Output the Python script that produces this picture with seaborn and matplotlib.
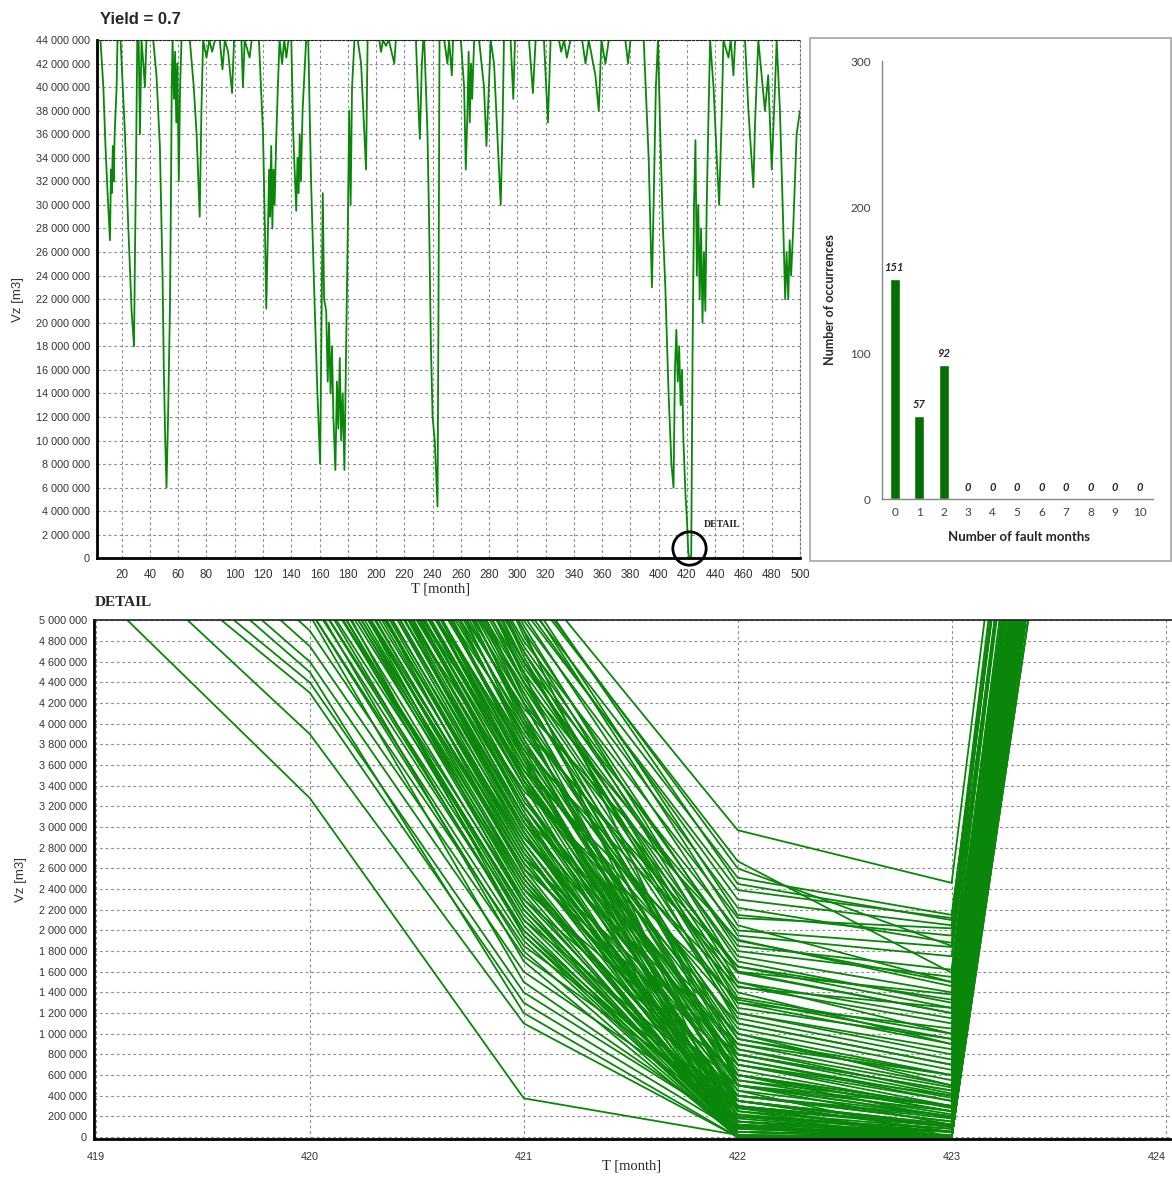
import matplotlib
matplotlib.use('Agg')
import matplotlib.pyplot as plt
from matplotlib.patches import Rectangle
from matplotlib.ticker import FuncFormatter, MultipleLocator, FixedLocator
import seaborn as sns
import pandas as pd
import numpy as np

# ---- top panel: Vz envelope over the 500 simulated months (values in million m3)
top_month = [2, 5, 7, 8.5, 10, 11.7, 12.4, 13, 13.7, 14.3, 15, 16.4, 17,
             19.2, 22.3, 24.7, 27, 28.7, 29.4, 30.1, 31, 32, 32.9, 34, 35.3, 36.4, 37.5,
             42.3, 44.6, 47, 48.9, 49.8, 50.8, 51.7, 52.8, 54.1, 54.8, 55.4, 56, 57, 57.8, 58.6, 59.4, 60.4, 61.3, 62.3,
             68.2, 71, 73, 75.2, 76.4, 77.6, 80, 82, 84, 86,
             89.4, 91.3, 93, 95.3, 98.1, 99.5, 104.7, 105.8, 107, 110.5, 112,
             117.1, 120, 121.5, 122.3, 123.5, 124.3, 125, 125.8, 126.6, 127.4, 128.2, 129.2, 130.5, 131.7, 133.5, 135, 136.5, 138,
             140, 141.4, 143.5, 144.4, 145.2, 146, 146.8, 148, 150.5,
             152, 154, 156.4, 158.5, 160.4, 161.2, 162.3, 163.2, 164.7, 165.8, 166.7, 167.8, 168.8, 169.8, 171.2, 172.3,
             173.3, 174.3, 175.3, 176.4, 177.6, 178.8, 180, 181, 182, 183, 184.7,
             187, 189.4, 191.7, 192.9, 194, 202.3, 203.5, 205, 207, 209, 212.9, 214,
             228.2, 230.1, 231, 232.4, 233.4, 234.1, 236.4, 237.6, 238.8, 240, 241.5, 243.5, 244.2, 244.9,
             248.2, 250.5, 251.7, 253.6, 254.5,
             260, 262.3, 263.5, 264.7, 265.5, 266.3, 267.2, 268, 269.4,
             272.9, 276.4, 278.1, 279.5, 281.1, 283.5, 285.8, 288.2, 289.4, 290.5,
             295.2, 297.1, 298.3, 308.2, 311, 312.9, 318.8, 321.6, 323.5,
             329.4, 331, 333, 335, 337.6, 345.8, 348.2, 350.5, 355.2, 357.6, 359.5, 362.3, 364.7, 376.4, 378.3, 380,
             389.4, 392.9, 395.2, 396.4, 398, 399.5, 401.1, 403, 404.7, 407, 409, 410.5, 411.5, 412.5, 413.5,
             414.5, 415.5, 416.5, 417.5, 418.5, 419, 420, 421, 422, 423,
             424, 425, 426, 427, 428, 429, 430, 431, 432, 433, 434, 435.3, 436.4,
             438.8, 441.1, 442.8, 444.7, 445.8, 449.4, 451, 452.9, 454.1,
             461.1, 463.5, 467, 468.2, 470.5, 475.2, 477.5, 480, 482.3, 483.5,
             485.8, 488.2, 489.5, 490.5, 491.7, 492.7, 493.7, 495.2, 497.6, 500]
top_vz = [44, 44, 40, 35, 31, 27, 33, 31, 35, 32, 36, 40, 44,
          44, 36, 28, 21, 18, 26, 33, 44, 44, 36, 44, 42, 40, 44,
          44, 41, 35, 24, 16, 10, 6, 12, 21, 30, 40, 44, 39, 43, 37, 42, 32, 40, 44,
          44, 40, 36, 29, 38, 44, 42.5, 44, 43, 44,
          44, 41.5, 44, 43, 39.5, 44, 44, 40, 44, 42.5, 44,
          44, 36, 27, 21.2, 28, 33, 29, 35, 28, 33, 30, 35, 40, 44, 42, 44, 42.5, 44,
          44, 36, 29.5, 34, 31, 36, 32, 38, 44,
          44, 32, 22, 14, 8, 18, 31, 22, 21, 15, 20, 14, 18, 12, 7.5, 15,
          11, 17, 10, 14, 7.5, 18, 28, 38, 30, 40, 44,
          44, 42, 36, 33, 44, 44, 43, 44, 43.5, 44, 42, 44,
          44, 38, 35.6, 42, 44, 44, 36, 28, 18, 12, 10, 4.4, 22, 44,
          44, 42, 44, 41, 44,
          44, 40, 33, 38, 43, 37, 42, 39, 44,
          44, 40, 35, 39, 44, 42, 36, 30, 36, 44,
          44, 39, 44, 44, 39.5, 44, 44, 37, 44,
          44, 43, 44, 42.5, 44, 44, 42, 44, 41, 38, 44, 42, 44, 44, 42, 44,
          44, 34, 23, 30, 40, 44, 36, 28, 23, 14, 8, 6, 16, 19.4, 15,
          18, 13, 16, 10, 7, 5.3, 3.3, 0.4, 0.02, 0,
          18, 30, 35.5, 24, 30, 22, 28, 20, 26, 21, 30, 38, 44,
          40, 34, 30, 38, 44, 42.5, 44, 41, 44,
          44, 38, 31.5, 37, 44, 38, 41, 33, 40, 44,
          38, 28, 22, 26, 22, 27, 24, 28, 36, 38]

# ---- histogram of fault months
fault_months = [0, 1, 2, 3, 4, 5, 6, 7, 8, 9, 10]
occurrences = [151, 57, 92, 0, 0, 0, 0, 0, 0, 0, 0]

# ---- detail: Vz of the individual runs around month 421 (million m3)
detail_months = [419, 420, 421, 422, 423, 424]
vz_419 = [5.3, 5.83, 6.0, 6.1, 6.3, 6.4, 6.6, 6.8, 7.0, 7.1,
          7.2, 7.4, 7.5, 7.6, 7.8, 7.9, 8.0, 8.2, 8.3, 8.4,
          8.5, 8.6, 8.8, 8.9, 9.0, 9.1, 9.2, 9.4, 9.5, 9.6,
          9.8, 10.0, 10.1, 10.2, 10.4, 10.5, 10.6, 10.8, 11.0, 11.2,
          11.4, 11.5, 11.7, 11.9, 12.2, 9.3, 9.0, 8.7, 8.5, 8.3,
          8.9, 8.6, 8.1, 7.7, 7.3, 9.7, 10.3, 10.7, 11.1, 11.6,
          7.9, 8.4, 8.8, 9.2, 9.6, 10.1, 10.9, 11.3, 7.5, 7.2,
          6.9, 6.7, 9.9, 10.4, 10.6, 11.0, 11.8, 12.0, 12.4, 12.6,
          8.0, 8.7, 9.4, 10.0, 10.5, 7.6, 9.1, 9.8, 11.2, 8.2,
          7.4, 7.7, 7.9, 8.1, 8.3, 8.5, 8.7, 8.8, 9.0, 9.2,
          9.3, 9.5, 9.6, 9.8, 10.0, 10.1, 10.3, 10.5, 7.0, 7.3,
          7.6, 7.8, 8.0, 8.2, 8.4, 8.6, 8.9, 9.1, 9.4, 9.7,
          6.5, 6.8, 7.1, 7.5, 8.0, 8.4, 8.9, 9.3, 9.7, 10.2,
          10.9, 11.3, 11.6, 12.0, 12.3, 10.6, 10.8, 11.5, 12.1, 12.5]
vz_420 = [3.28, 3.9, 4.3, 4.4, 4.5, 4.6, 4.75, 4.9, 5.1, 5.2,
          5.3, 5.4, 5.5, 5.6, 5.7, 5.8, 5.9, 6.0, 6.1, 6.2,
          6.3, 6.4, 6.5, 6.6, 6.7, 6.8, 6.9, 7.0, 7.1, 7.2,
          7.4, 7.5, 7.6, 7.7, 7.8, 7.9, 8.0, 8.2, 8.4, 8.5,
          8.7, 8.8, 9.0, 9.2, 9.5, 7.3, 7.05, 6.85, 6.65, 6.45,
          6.95, 6.75, 6.35, 6.05, 5.75, 7.55, 8.1, 8.3, 8.6, 8.9,
          6.15, 6.55, 6.9, 7.15, 7.35, 7.65, 8.25, 8.65, 5.85, 5.55,
          5.25, 5.05, 7.75, 8.15, 8.35, 8.55, 9.1, 9.3, 9.6, 9.8,
          6.25, 6.8, 7.25, 7.85, 8.05, 5.95, 7.0, 7.45, 8.75, 6.5,
          5.65, 5.9, 6.1, 6.3, 6.5, 6.6, 6.75, 6.85, 7.0, 7.1,
          7.2, 7.3, 7.45, 7.6, 7.7, 7.8, 7.95, 8.1, 5.4, 5.6,
          5.8, 6.0, 6.2, 6.4, 6.55, 6.7, 6.95, 7.05, 7.3, 7.5,
          5.1, 5.3, 5.5, 5.75, 6.05, 6.35, 6.65, 6.95, 7.25, 7.55,
          8.45, 8.8, 9.0, 9.4, 9.65, 8.2, 8.4, 8.95, 9.5, 9.7]
vz_421 = [0.375, 1.1, 1.3, 1.4, 1.2, 1.6, 1.75, 1.85, 1.9, 2.0,
          2.1, 2.2, 2.3, 2.15, 2.4, 2.5, 2.6, 2.45, 2.7, 2.8,
          2.9, 3.0, 3.1, 3.2, 3.3, 3.4, 3.5, 3.6, 3.7, 3.8,
          4.0, 4.1, 4.2, 4.3, 4.4, 4.5, 4.6, 4.7, 4.8, 4.9,
          5.0, 5.1, 5.2, 5.35, 5.5, 4.15, 3.95, 3.75, 3.55, 3.35,
          3.15, 2.95, 2.55, 2.25, 1.95, 3.45, 3.85, 4.05, 4.25, 4.45,
          2.85, 3.05, 3.25, 3.65, 3.9, 4.35, 4.55, 4.75, 2.35, 2.05,
          1.7, 1.5, 3.65, 4.0, 4.2, 4.4, 4.65, 4.85, 5.05, 5.25,
          2.75, 3.1, 3.5, 3.8, 4.1, 2.65, 3.4, 3.7, 4.6, 2.95,
          2.25, 2.4, 2.55, 2.7, 2.85, 3.0, 3.1, 3.2, 3.3, 3.4,
          3.5, 3.6, 3.75, 3.85, 3.95, 4.05, 4.2, 4.3, 1.95, 2.1,
          2.3, 2.5, 2.65, 2.8, 2.9, 3.05, 3.3, 3.45, 3.55, 3.7,
          1.8, 2.0, 2.2, 2.45, 2.6, 2.75, 2.95, 3.2, 3.45, 3.7,
          4.5, 4.7, 4.9, 5.15, 5.4, 4.4, 4.6, 4.95, 5.3, 5.45]
vz_422 = [0.02, 0.0, 0.05, 0.1, 0.0, 0.2, 0.28, 0.35, 0.0, 0.15,
          0.4, 0.0, 0.5, 0.05, 0.6, 0.0, 0.7, 0.3, 0.8, 0.0,
          0.9, 0.2, 1.0, 0.4, 0.0, 1.1, 0.6, 1.2, 0.1, 1.3,
          1.5, 0.3, 1.65, 0.8, 1.9, 0.0, 2.0, 1.3, 2.12, 0.5,
          2.22, 2.39, 2.51, 2.67, 2.97, 1.91, 1.65, 1.59, 1.46, 1.33,
          0.0, 0.1, 0.05, 0.0, 0.12, 0.45, 0.7, 0.95, 1.15, 1.4,
          0.25, 0.55, 0.75, 0.9, 1.05, 1.2, 1.75, 1.85, 0.0, 0.02,
          0.0, 0.08, 0.0, 0.35, 0.6, 0.85, 1.1, 1.5, 1.95, 2.05,
          0.15, 0.35, 0.65, 0.5, 1.0, 0.4, 0.85, 0.0, 1.25, 0.0,
          0.0, 0.0, 0.0, 0.05, 0.1, 0.15, 0.0, 0.2, 0.3, 0.0,
          0.25, 0.4, 0.5, 0.35, 0.6, 0.0, 0.55, 0.75, 0.0, 0.08,
          0.12, 0.22, 0.3, 0.0, 0.45, 0.05, 0.5, 0.15, 0.7, 0.2,
          0.0, 0.0, 0.18, 0.1, 0.0, 0.35, 0.28, 0.6, 0.8, 0.95,
          1.6, 1.7, 1.8, 2.3, 2.6, 1.35, 1.45, 1.6, 2.15, 2.45]
vz_423 = [0.0, 0.0, 0.0, 0.02, 0.0, 0.05, 0.1, 0.12, 0.0, 0.0,
          0.2, 0.0, 0.3, 0.0, 0.25, 0.0, 0.35, 0.1, 0.4, 0.0,
          0.5, 0.0, 0.6, 0.15, 0.0, 0.7, 0.3, 0.8, 0.0, 0.9,
          1.0, 0.0, 1.25, 0.45, 1.5, 0.0, 1.84, 1.05, 2.02, 0.2,
          1.88, 2.12, 2.15, 1.59, 2.46, 1.46, 1.33, 1.2, 1.1, 0.95,
          0.0, 0.0, 0.0, 0.0, 0.05, 0.0, 0.3, 0.55, 0.75, 0.9,
          0.08, 0.22, 0.38, 0.6, 0.65, 0.85, 1.4, 1.62, 0.0, 0.0,
          0.0, 0.0, 0.0, 0.05, 0.18, 0.42, 0.7, 1.15, 1.75, 1.5,
          0.0, 0.1, 0.28, 0.12, 0.5, 0.15, 0.48, 0.0, 0.95, 0.0,
          0.0, 0.0, 0.0, 0.0, 0.0, 0.05, 0.0, 0.08, 0.1, 0.0,
          0.0, 0.18, 0.2, 0.1, 0.25, 0.0, 0.3, 0.35, 0.0, 0.0,
          0.0, 0.05, 0.1, 0.0, 0.2, 0.0, 0.25, 0.0, 0.4, 0.05,
          0.0, 0.0, 0.0, 0.0, 0.0, 0.12, 0.0, 0.3, 0.45, 0.6,
          1.2, 1.3, 1.55, 2.05, 1.85, 1.0, 1.25, 1.38, 1.95, 2.1]
vz_424 = [14.0, 15.5, 16.0, 15.0, 16.5, 17.0, 15.5, 14.5, 16.0, 15.0,
          17.0, 16.0, 15.5, 14.5, 16.5, 15.0, 17.5, 16.0, 15.5, 14.0,
          16.0, 17.0, 15.0, 16.5, 15.5, 17.0, 14.5, 16.0, 15.0, 16.5,
          17.0, 15.5, 16.0, 14.5, 16.5, 15.0, 17.5, 16.0, 18.0, 15.5,
          17.0, 18.0, 17.5, 18.5, 19.0, 16.0, 16.5, 15.5, 16.0, 15.0,
          14.5, 15.5, 16.0, 14.0, 15.0, 16.5, 15.5, 17.0, 16.0, 17.5,
          15.0, 16.0, 15.5, 16.5, 17.0, 16.0, 17.5, 18.0, 15.0, 14.5,
          15.5, 16.0, 14.5, 15.0, 16.0, 16.5, 17.0, 17.5, 18.0, 18.5,
          15.5, 16.0, 16.5, 15.0, 17.0, 15.5, 16.0, 14.5, 17.0, 15.0,
          15.0, 16.0, 15.5, 14.5, 16.5, 15.0, 16.0, 15.5, 16.5, 15.0,
          14.5, 16.0, 15.5, 16.5, 17.0, 15.0, 16.0, 17.0, 14.5, 15.5,
          16.0, 15.0, 16.5, 15.5, 16.0, 14.5, 17.0, 15.0, 16.0, 15.5,
          15.0, 14.5, 16.0, 15.5, 16.5, 15.0, 16.0, 15.5, 17.0, 16.0,
          17.5, 17.0, 18.0, 18.5, 19.0, 17.0, 16.5, 17.5, 18.5, 19.0]

GREEN = '#0a860a'
BAR_GREEN = '#036f03'
GRID = dict(color='#8c8c8c', linestyle=(0, (2.5, 2.5)), linewidth=0.8)

sns.set_style('white')
plt.rcParams['font.family'] = ['Liberation Sans', 'DejaVu Sans']

W, H = 1172, 1178


def box(x0, y0, x1, y1):
    # pixel box (top-left origin) -> figure fraction rect
    return [x0 / W, 1 - y1 / H, (x1 - x0) / W, (y1 - y0) / H]


def spaced(v, pos):
    return f"{int(round(v)):,}".replace(",", " ")


fig = plt.figure(figsize=(W / 100, H / 100), dpi=100)

# ---------------- top: time series ----------------
ax = fig.add_axes(box(96.7, 40, 800, 558.3))
top_df = pd.DataFrame({'T': top_month, 'Vz': np.array(top_vz) * 1e6})
sns.lineplot(data=top_df, x='T', y='Vz', estimator=None, sort=False,
             color=GREEN, linewidth=1.3, ax=ax)
ax.set_xlim(2.3, 500)
ax.set_ylim(0, 44e6)
ax.xaxis.set_major_locator(FixedLocator(np.arange(20, 501, 20)))
ax.xaxis.set_minor_locator(MultipleLocator(5))
ax.yaxis.set_major_locator(MultipleLocator(2e6))
ax.yaxis.set_major_formatter(FuncFormatter(spaced))
ax.grid(True, which='major', **GRID)
ax.set_xlabel('')
ax.set_ylabel('')
ax.tick_params(axis='y', labelsize=7.8, colors='#333333', length=3, width=0.8, pad=2)
ax.tick_params(axis='x', which='major', labelsize=8.4, colors='#333333', length=3,
               width=0.8, pad=5)
ax.tick_params(axis='x', which='minor', length=2, width=0.7, color='#555555',
               direction='inout')
for s in ['left', 'bottom']:
    ax.spines[s].set_linewidth(2)
    ax.spines[s].set_color('black')
ax.spines['top'].set_linestyle((0, (2, 1.5)))
ax.spines['top'].set_color('#222222')
ax.spines['right'].set_linestyle((0, (2, 2)))
ax.spines['right'].set_color('#777777')
ax.plot([421.1], [0.87e6], marker='o', ms=24, mfc='none', mec='black', mew=2,
        clip_on=False, zorder=5)
ax.text(431.6, 2.83e6, 'DETAIL', fontsize=7, fontweight='bold',
        family='Liberation Serif', ha='left', va='center')

fig.text(100 / W, 1 - 20 / H, 'Yield = 0.7', fontsize=12, fontweight='bold',
         ha='left', va='center')
fig.text(441 / W, 1 - 589 / H, 'T [month]', fontsize=10.5, family='Liberation Serif',
         ha='center', va='center')
fig.text(18 / W, 1 - 300 / H, 'Vz [m3]', fontsize=9.5, rotation=90,
         ha='center', va='center', color='#333333')

# ---------------- top right: histogram ----------------
fig.add_artist(Rectangle((810 / W, 1 - 561 / H), (1171 - 810) / W, (561 - 38) / H,
                         transform=fig.transFigure, fill=False,
                         edgecolor='#a6a6a6', linewidth=1.2))
bx = fig.add_axes(box(881.7, 61, 1152.7, 499))
sns.barplot(x=fault_months, y=occurrences, color=BAR_GREEN, width=0.4,
            saturation=1, ax=bx)
bx.set_xlim(-0.53, 10.53)
bx.set_ylim(0, 300)
bx.set_yticks([0, 100, 200, 300])
bx.set_xlabel('')
bx.set_ylabel('')
for s in ['top', 'right']:
    bx.spines[s].set_visible(False)
for s in ['left', 'bottom']:
    bx.spines[s].set_color('#868686')
    bx.spines[s].set_linewidth(1)
bx.xaxis.set_minor_locator(FixedLocator(np.arange(-0.5, 11, 1)))
bx.tick_params(axis='x', which='major', length=0, labelsize=8.5, colors='#404040', pad=6)
bx.tick_params(axis='x', which='minor', length=4, color='#868686', direction='out')
bx.tick_params(axis='y', length=4, color='#868686', labelsize=8.5, labelcolor='#404040', pad=4)
for lab in bx.get_xticklabels() + bx.get_yticklabels():
    lab.set_family('Lato')
for i, v in enumerate(occurrences):
    bx.annotate(str(v), (i, v), xytext=(0, 4), textcoords='offset points',
                ha='center', va='bottom', fontsize=8, fontweight='bold',
                fontstyle='italic', family='Lato', color='#262626')
fig.text(830 / W, 1 - 300 / H, 'Number of occurrences', rotation=90, fontsize=9,
         fontweight='bold', family='Lato', ha='center', va='center', color='#262626')
fig.text(1019 / W, 1 - 537 / H, 'Number of fault months', fontsize=9.5,
         fontweight='bold', family='Lato', ha='center', va='center', color='#262626')

# ---------------- bottom: detail ----------------
rows = []
for run in range(len(vz_419)):
    for m, col in zip(detail_months, [vz_419, vz_420, vz_421, vz_422, vz_423, vz_424]):
        rows.append((run, m, col[run] * 1e6))
det = pd.DataFrame(rows, columns=['run', 'T', 'Vz'])

dx = fig.add_axes(box(93.8, 620.5, 1172, 1139))
sns.lineplot(data=det, x='T', y='Vz', units='run', estimator=None, sort=False,
             color=GREEN, linewidth=1.3, ax=dx)
dx.set_xlim(418.99, 424.03)
dx.set_ylim(-19000, 5.0e6)
dx.xaxis.set_major_locator(FixedLocator(detail_months))
dx.xaxis.set_minor_locator(MultipleLocator(0.25))
dx.yaxis.set_major_locator(MultipleLocator(2e5))
dx.yaxis.set_major_formatter(FuncFormatter(spaced))
dx.grid(True, which='major', **GRID)
dx.set_xlabel('')
dx.set_ylabel('')
dx.tick_params(axis='both', which='major', labelsize=7.8, colors='#333333', length=3,
               width=0.8, pad=2)
dx.tick_params(axis='x', which='minor', length=3, direction='inout', color='#555555')
dx.tick_params(axis='x', which='major', pad=6)
dx.get_xticklabels()[-1].set_horizontalalignment('right')
for s in ['left', 'bottom']:
    dx.spines[s].set_linewidth(2)
    dx.spines[s].set_color('black')
dx.spines['top'].set_color('#222222')
dx.spines['top'].set_linewidth(1.2)
dx.spines['right'].set_visible(False)

fig.text(95 / W, 1 - 603 / H, 'DETAIL', fontsize=11, fontweight='bold',
         family='Liberation Serif', ha='left', va='center')
fig.text(632 / W, 1 - 1166 / H, 'T [month]', fontsize=10.5, family='Liberation Serif',
         ha='center', va='center')
fig.text(21 / W, 1 - 879 / H, 'Vz [m3]', fontsize=9.5, rotation=90,
         ha='center', va='center', color='#333333')

fig.savefig('out.png', dpi=100)
